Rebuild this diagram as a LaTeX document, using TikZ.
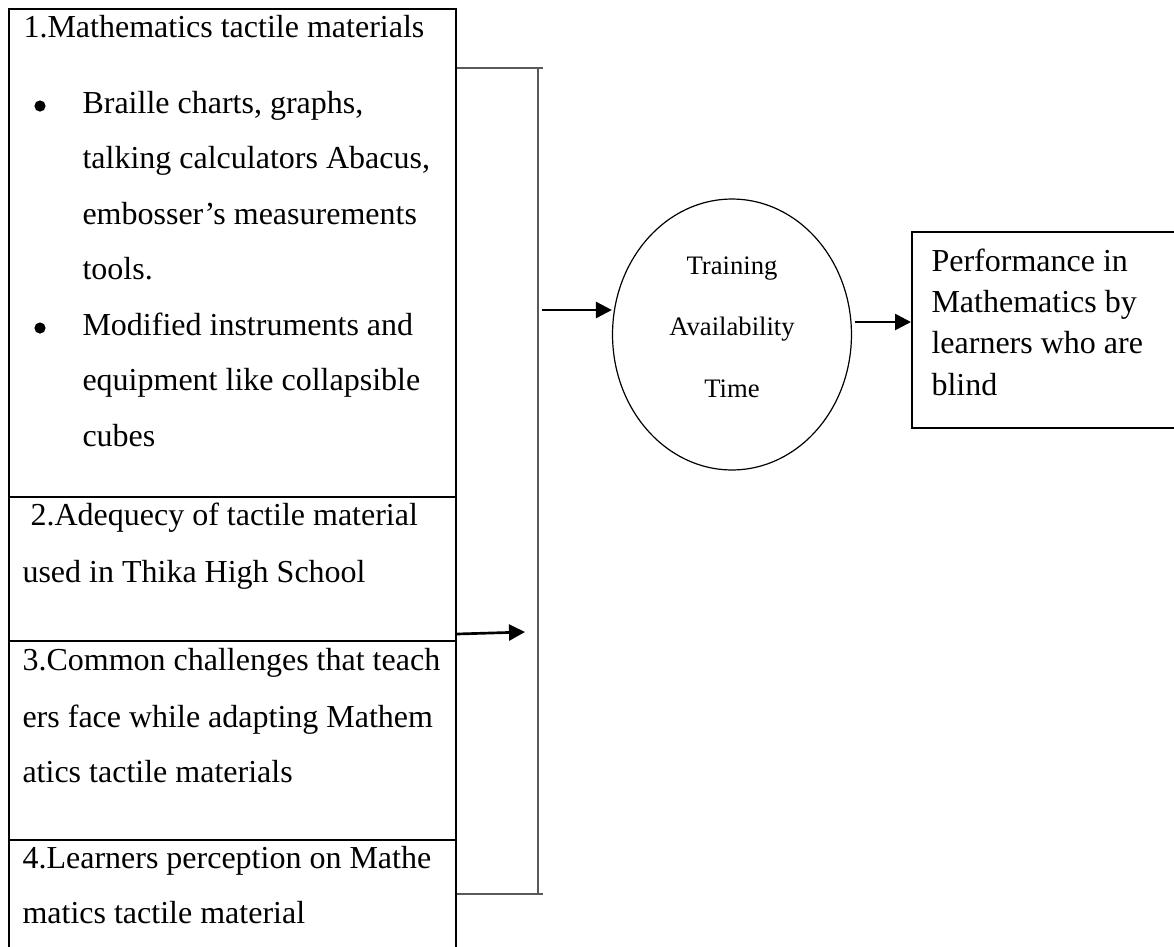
\documentclass[tikz,border=0pt]{standalone}
\usepackage{fontspec}
\setmainfont{Liberation Serif}
\usetikzlibrary{shapes.geometric, arrows.meta}
\begin{document}
\begin{tikzpicture}[x=0.375pt, y=-0.375pt,
  txt/.style={anchor=base west, inner sep=0, font=\fontsize{12}{14}\selectfont},
  bul/.style={circle, fill=black, inner sep=0, minimum size=4.2pt},
  small/.style={anchor=base, inner sep=0, font=\fontsize{10}{12}\selectfont},
  boxline/.style={line width=0.8pt},
  brk/.style={line width=0.5pt, draw=black!65},
  arr/.style={-{Triangle[length=6pt,width=6pt]}, line width=1pt}]
\useasboundingbox (0,0) rectangle (1174,947);
\clip (0,0) rectangle (1174,947);

% left box and dividers
\node[draw, boxline, anchor=north west, minimum width=167.6pt, minimum height=357pt, inner sep=0] (left) at (8,7.5) {};
\draw[boxline] (left.west |- 0,497) -- (left.east |- 0,497);
\draw[boxline] (left.west |- 0,641) -- (left.east |- 0,641);
\draw[boxline] (left.west |- 0,840) -- (left.east |- 0,840);

% texts in left box
\node[txt] (t1) at (23,37) {1.Mathematics tactile materials};
\node[bul] (b1) at (40,106) {};
\node[txt] (t2) at (82,113) {Braille charts, graphs,};
\node[txt] (t3) at (82,168.5) {talking calculators Abacus,};
\node[txt] (t4) at (82,224) {embosser’s measurements};
\node[txt] (t5) at (82,279.5) {tools.};
\node[bul] (b2) at (40,328) {};
\node[txt] (t6) at (82,335) {Modified instruments and};
\node[txt] (t7) at (82,390.5) {equipment like collapsible};
\node[txt] (t8) at (82,446) {cubes};
\node[txt] (t9) at (30,525) {2.Adequecy of tactile material};
\node[txt] (t10) at (22,582) {used in Thika High School};
\node[txt] (t11) at (22,670) {3.Common challenges that teach};
\node[txt] (t12) at (22,727) {ers face while adapting Mathem};
\node[txt] (t13) at (22,782) {atics tactile materials};
\node[txt] (t14) at (22,868) {4.Learners perception on Mathe};
\node[txt] (t15) at (22,923) {matics tactile material};

% bracket
\coordinate (bt) at (538,68);
\coordinate (bb) at (538,894);
\draw[brk] (left.east |- bt) -- ++(86,0);
\draw[brk] (left.east |- bb) -- ++(86,0);
\draw[brk] (bt) -- (bb);

% moderating ellipse
\node[ellipse, draw, line width=0.45pt, minimum width=89.6pt, minimum height=101.6pt, inner sep=0] (mod) at (732,334.5) {};
\node[small] (m1) at (732,274) {Training};
\node[small] (m2) at (732,335) {Availability};
\node[small] (m3) at (732,397) {Time};

% outcome box
\node[draw, boxline, anchor=north west, minimum width=103pt, minimum height=73.5pt, inner sep=0] (out) at (911,231) {};
\node[txt] (o1) at (931,271) {Performance in};
\node[txt] (o2) at (931,312) {Mathematics by};
\node[txt] (o3) at (931,353) {learners who are};
\node[txt] (o4) at (931,395) {blind};

% arrows
\coordinate (a1s) at (541.5,310);
\draw[arr] (a1s) -- (a1s -| mod.west);
\coordinate (a2e) at (525,632);
\draw[arr] (left.east |- 0,634) -- (a2e);
\coordinate (a3s) at (855,322);
\draw[arr] (a3s) -- (a3s -| out.west);
\end{tikzpicture}
\end{document}
